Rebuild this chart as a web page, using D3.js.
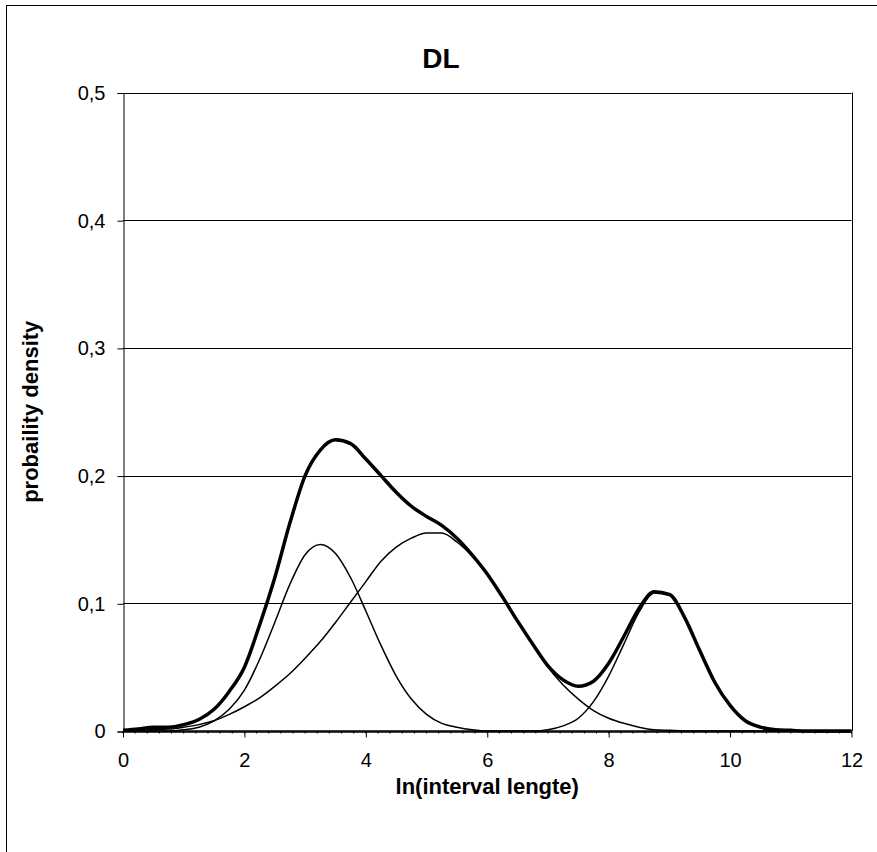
<!DOCTYPE html>
<html>
<head>
<meta charset="utf-8">
<script src="https://cdn.jsdelivr.net/npm/d3@7"></script>
<style>
  body { margin: 0; background: #fff; }
  text { font-family: Arial, "Liberation Sans", sans-serif; fill: #000; }
</style>
</head>
<body>
<div id="chart"></div>
<script>
// ln(interval length) categories
const xValues = [0, 0.25, 0.5, 0.75, 1, 1.25, 1.5, 1.75, 2, 2.25, 2.5, 2.75, 3, 3.25, 3.5, 3.75,
  4, 4.25, 4.5, 4.75, 5, 5.25, 5.5, 5.75, 6, 6.25, 6.5, 6.75, 7, 7.25, 7.5, 7.75,
  8, 8.25, 8.5, 8.75, 9, 9.25, 9.5, 9.75, 10, 10.25, 10.5, 10.75, 11, 11.25, 11.5, 11.75, 12];

// component 1 (narrow, ~3.25)
const comp1 = [0, 0, 0, 0, 0.001, 0.003, 0.008, 0.017, 0.032, 0.056, 0.085, 0.115, 0.138, 0.146, 0.139, 0.120,
  0.094, 0.067, 0.043, 0.025, 0.013, 0.006, 0.003, 0.001, 0, 0, 0, 0, 0, 0, 0, 0,
  0, 0, 0, 0, 0, 0, 0, 0, 0, 0, 0, 0, 0, 0, 0, 0, 0];

// component 2 (wide, ~5.1)
const comp2 = [0, 0.0005, 0.001, 0.0015, 0.003, 0.005, 0.008, 0.013, 0.019, 0.026, 0.035, 0.045, 0.057, 0.070, 0.085, 0.101,
  0.117, 0.133, 0.144, 0.151, 0.155, 0.155, 0.148, 0.137, 0.123, 0.105, 0.086, 0.068, 0.050, 0.036, 0.025, 0.016,
  0.010, 0.006, 0.003, 0.001, 0.0005, 0, 0, 0, 0, 0, 0, 0, 0, 0, 0, 0, 0];

// component 3 (~8.85)
const comp3 = [0, 0, 0, 0, 0, 0, 0, 0, 0, 0, 0, 0, 0, 0, 0, 0,
  0, 0, 0, 0, 0, 0, 0, 0, 0, 0, 0, 0, 0.001, 0.004, 0.010, 0.023,
  0.043, 0.068, 0.093, 0.108, 0.106, 0.089, 0.063, 0.038, 0.020, 0.008, 0.003, 0.001, 0.0005, 0, 0, 0, 0];

// total density (thick line)
const total = [0.0005, 0.0015, 0.003, 0.003, 0.005, 0.009, 0.017, 0.031, 0.050, 0.083, 0.120, 0.163, 0.200, 0.220, 0.228, 0.225,
  0.213, 0.200, 0.187, 0.176, 0.168, 0.161, 0.151, 0.138, 0.123, 0.105, 0.086, 0.068, 0.051, 0.040, 0.035, 0.039,
  0.053, 0.074, 0.096, 0.109, 0.107, 0.089, 0.063, 0.038, 0.020, 0.008, 0.003, 0.001, 0.0005, 0, 0, 0, 0];

const xTicks = [0, 2, 4, 6, 8, 10, 12];
const yTicks = [0, 0.1, 0.2, 0.3, 0.4, 0.5];

const width = 877, height = 852;
const plot = { left: 123, right: 851.5, top: 92.5, bottom: 731 };

const svg = d3.select("#chart").append("svg")
  .attr("width", width)
  .attr("height", height);

// рамка диаграммы
svg.append("rect")
  .attr("x", 6.5).attr("y", 5.5)
  .attr("width", 880).attr("height", 860)
  .attr("fill", "#fff")
  .attr("stroke", "#000")
  .attr("stroke-width", 1);

const x = d3.scaleLinear().domain([0, 12]).range([plot.left, plot.right]);
const y = d3.scaleLinear().domain([0, 0.5]).range([plot.bottom, plot.top]);

const fmt = d => d3.format(".1f")(d).replace(".", ",");

// gridlines
svg.append("g")
  .selectAll("line")
  .data(yTicks.slice(1))
  .enter()
  .append("line")
  .attr("x1", plot.left).attr("x2", plot.right)
  .attr("y1", d => Math.round(y(d)) + 0.5)
  .attr("y2", d => Math.round(y(d)) + 0.5)
  .attr("stroke", "#000")
  .attr("stroke-width", 1);

// right border of plot area
svg.append("line")
  .attr("x1", Math.round(plot.right) + 0.5).attr("x2", Math.round(plot.right) + 0.5)
  .attr("y1", y(0.5)).attr("y2", plot.bottom)
  .attr("stroke", "#000");

// y axis
const yAxis = d3.axisLeft(y)
  .tickValues(yTicks)
  .tickFormat(d => d === 0 ? "0" : fmt(d))
  .tickSize(6)
  .tickPadding(12);

const gy = svg.append("g")
  .attr("transform", `translate(${Math.round(plot.left) + 0.5},0.5)`)
  .call(yAxis);
gy.select(".domain").attr("stroke", "#000");
gy.selectAll("text").attr("font-size", "20px").attr("font-family", "Arial, 'Liberation Sans', sans-serif");

// minor ticks on x axis
svg.append("g")
  .selectAll("line")
  .data(d3.range(0, 12.001, 0.2))
  .enter()
  .append("line")
  .attr("x1", d => x(d)).attr("x2", d => x(d))
  .attr("y1", plot.bottom).attr("y2", plot.bottom + 2.5)
  .attr("stroke", "#000")
  .attr("stroke-width", 1);

// x axis
const xAxis = d3.axisBottom(x)
  .tickValues(xTicks)
  .tickFormat(d3.format("d"))
  .tickSizeInner(6)
  .tickSizeOuter(0)
  .tickPadding(15);

const gx = svg.append("g")
  .attr("transform", `translate(0,${Math.round(plot.bottom) + 0.5})`)
  .call(xAxis);
gx.select(".domain").attr("stroke", "#000").attr("stroke-width", 1.5);
gx.selectAll("text").attr("font-size", "20px").attr("font-family", "Arial, 'Liberation Sans', sans-serif");

// curves
const line = vals => d3.line()
  .x((d, i) => x(xValues[i]))
  .y(d => y(d))
  .curve(d3.curveMonotoneX)(vals);

[comp1, comp2, comp3].forEach(vals => {
  svg.append("path")
    .attr("d", line(vals))
    .attr("fill", "none")
    .attr("stroke", "#000")
    .attr("stroke-width", 1.5);
});

svg.append("path")
  .attr("d", line(total))
  .attr("fill", "none")
  .attr("stroke", "#000")
  .attr("stroke-width", 3.5)
  .attr("stroke-linejoin", "round");

// titles
svg.append("text")
  .attr("x", 441).attr("y", 68)
  .attr("text-anchor", "middle")
  .attr("font-size", "28px")
  .attr("font-weight", "bold")
  .text("DL");

svg.append("text")
  .attr("x", (plot.left + plot.right) / 2).attr("y", 794)
  .attr("text-anchor", "middle")
  .attr("font-size", "22px")
  .attr("font-weight", "bold")
  .text("ln(interval lengte)");

svg.append("text")
  .attr("transform", `translate(38,${(plot.top + plot.bottom) / 2}) rotate(-90)`)
  .attr("text-anchor", "middle")
  .attr("font-size", "22px")
  .attr("font-weight", "bold")
  .text("probaility density");
</script>
</body>
</html>
